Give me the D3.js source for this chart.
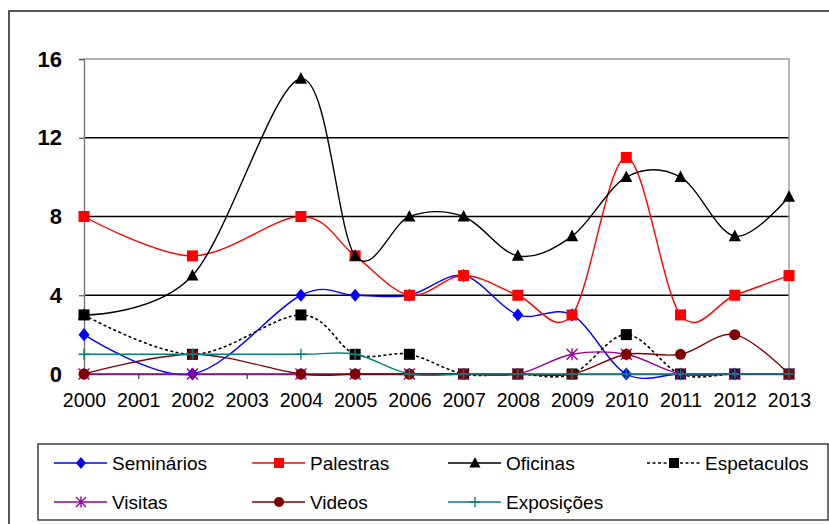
<!DOCTYPE html>
<html>
<head>
<meta charset="utf-8">
<script src="https://cdn.jsdelivr.net/npm/d3@7"></script>
<style>
  html, body { margin: 0; padding: 0; background: #fff; }
  svg { display: block; }
  text { font-family: Arial, "Liberation Sans", sans-serif; fill: #000; }
</style>
</head>
<body>
<svg id="chart" width="829" height="524"></svg>
<script>
// Anos com registro e anos mostrados no eixo
const years = [2000, 2002, 2004, 2005, 2006, 2007, 2008, 2009, 2010, 2011, 2012, 2013];
const yearTicks = [2000, 2001, 2002, 2003, 2004, 2005, 2006, 2007, 2008, 2009, 2010, 2011, 2012, 2013];
const valueTicks = [0, 4, 8, 12, 16];

// Quantidade de atividades por ano
const seminarios  = [2, 0, 4, 4, 4, 5, 3, 3, 0, 0, 0, 0];
const palestras   = [8, 6, 8, 6, 4, 5, 4, 3, 11, 3, 4, 5];
const oficinas    = [3, 5, 15, 6, 8, 8, 6, 7, 10, 10, 7, 9];
const espetaculos = [3, 1, 3, 1, 1, 0, 0, 0, 2, 0, 0, 0];
const visitas     = [0, 0, 0, 0, 0, 0, 0, 1, 1, 0, 0, 0];
const videos      = [0, 1, 0, 0, 0, 0, 0, 0, 1, 1, 2, 0];
const exposicoes  = [1, 1, 1, 1, 0, 0, 0, 0, 0, 0, 0, 0];

const series = [
  { name: "Seminários",  values: seminarios,  color: "#0000ff", marker: "diamond" },
  { name: "Palestras",   values: palestras,   color: "#ff0000", marker: "square" },
  { name: "Oficinas",    values: oficinas,    color: "#000000", marker: "triangle" },
  { name: "Espetaculos", values: espetaculos, color: "#000000", marker: "square", dash: "3,2.5" },
  { name: "Visitas",     values: visitas,     color: "#990099", marker: "star" },
  { name: "Videos",      values: videos,      color: "#800000", marker: "circle" },
  { name: "Exposições",  values: exposicoes,  color: "#008080", marker: "plus" }
];

const svg = d3.select("#chart");

// Moldura externa
svg.append("rect")
  .attr("x", 9).attr("y", 11).attr("width", 840).attr("height", 540)
  .attr("fill", "none").attr("stroke", "#555").attr("stroke-width", 2);

const plotLeft = 84, plotRight = 789, plotTop = 59, plotBottom = 374;
const x = d3.scaleLinear().domain([2000, 2013]).range([plotLeft, plotRight]);
const y = d3.scaleLinear().domain([0, 16]).range([plotBottom, plotTop]);

// Linhas de grade
svg.append("g").selectAll("line")
  .data(valueTicks.filter(v => v > 0 && v < 16))
  .join("line")
  .attr("x1", plotLeft).attr("x2", plotRight)
  .attr("y1", d => y(d)).attr("y2", d => y(d))
  .attr("stroke", "#000").attr("stroke-width", 1.4);

// Borda da área de plotagem (topo e direita)
svg.append("path")
  .attr("d", `M${plotLeft},${y(16)}H${plotRight}V${plotBottom}`)
  .attr("fill", "none").attr("stroke", "#9a9a9a").attr("stroke-width", 1.4);

// Eixo Y
const yAxis = svg.append("g")
  .attr("transform", `translate(${plotLeft},0)`)
  .call(d3.axisLeft(y).tickValues(valueTicks).tickSize(5).tickPadding(17));
yAxis.select(".domain").attr("stroke", "#777").attr("stroke-width", 1.4);
yAxis.selectAll(".tick line").attr("stroke", "#555").attr("stroke-width", 1.2);
yAxis.selectAll(".tick text")
  .style("font-family", "Arial, 'Liberation Sans', sans-serif")
  .style("font-size", "22px").style("font-weight", "bold").attr("fill", "#000");

// Eixo X
const xAxis = svg.append("g")
  .attr("transform", `translate(0,${plotBottom})`)
  .call(d3.axisBottom(x).tickValues(yearTicks).tickFormat(d3.format("d")).tickSize(5).tickPadding(14));
xAxis.select(".domain").attr("stroke", "#555").attr("stroke-width", 1.4);
xAxis.selectAll(".tick line").attr("stroke", "#333").attr("stroke-width", 1.2);
xAxis.selectAll(".tick text")
  .style("font-family", "Arial, 'Liberation Sans', sans-serif")
  .style("font-size", "19.5px").attr("fill", "#000");

// Marcadores
function drawMarker(g, type, color, size) {
  const s = size;
  if (type === "diamond") {
    g.append("path").attr("d", `M0,${-s * 0.6}L${s * 0.5},0L0,${s * 0.6}L${-s * 0.5},0Z`).attr("fill", color);
  } else if (type === "square") {
    g.append("rect").attr("x", -s / 2).attr("y", -s / 2).attr("width", s).attr("height", s).attr("fill", color);
  } else if (type === "triangle") {
    g.append("path").attr("d", `M0,${-s * 0.6}L${s * 0.55},${s * 0.45}L${-s * 0.55},${s * 0.45}Z`).attr("fill", color);
  } else if (type === "circle") {
    g.append("circle").attr("r", s / 2).attr("fill", color);
  } else if (type === "star") {
    const r = s / 2;
    g.append("path")
      .attr("d", `M${-r},${-r}L${r},${r}M${-r},${r}L${r},${-r}M0,${-r * 1.1}V${r * 1.1}`)
      .attr("stroke", color).attr("stroke-width", 1.4).attr("fill", "none");
  } else if (type === "plus") {
    const r = s / 2;
    g.append("path")
      .attr("d", `M${-r},0H${r}M0,${-r}V${r}`)
      .attr("stroke", color).attr("stroke-width", 1.4).attr("fill", "none");
  }
}

const line = d3.line()
  .x((d, i) => x(years[i]))
  .y(d => y(d))
  .curve(d3.curveCardinal.tension(0));

const plot = svg.append("g");
series.forEach(s => {
  plot.append("path")
    .datum(s.values)
    .attr("d", line)
    .attr("fill", "none")
    .attr("stroke", s.color)
    .attr("stroke-width", s.dash ? 1.6 : 1.4)
    .attr("stroke-dasharray", s.dash || null);
  s.values.forEach((v, i) => {
    const g = plot.append("g").attr("transform", `translate(${x(years[i])},${y(v)})`);
    drawMarker(g, s.marker, s.color, 11);
  });
});

// Legenda
svg.append("rect")
  .attr("x", 38).attr("y", 444).attr("width", 790).attr("height", 76)
  .attr("fill", "#fff").attr("stroke", "#333").attr("stroke-width", 1.4);

const legendPos = [
  { cx: 54, cy: 463 }, { cx: 252, cy: 463 }, { cx: 448, cy: 463 }, { cx: 647, cy: 463 },
  { cx: 54, cy: 502 }, { cx: 252, cy: 502 }, { cx: 448, cy: 502 }
];
series.forEach((s, i) => {
  const p = legendPos[i];
  const g = svg.append("g").attr("transform", `translate(${p.cx},${p.cy})`);
  g.append("line").attr("x1", 0).attr("x2", 53).attr("y1", 0).attr("y2", 0)
    .attr("stroke", s.color).attr("stroke-width", 1.4)
    .attr("stroke-dasharray", s.dash || null);
  const m = g.append("g").attr("transform", "translate(27,0)");
  drawMarker(m, s.marker, s.color, 10);
  g.append("text").attr("x", 58).attr("y", 0).attr("dy", "0.35em")
    .style("font-size", "19px").text(s.name);
});
</script>
</body>
</html>
